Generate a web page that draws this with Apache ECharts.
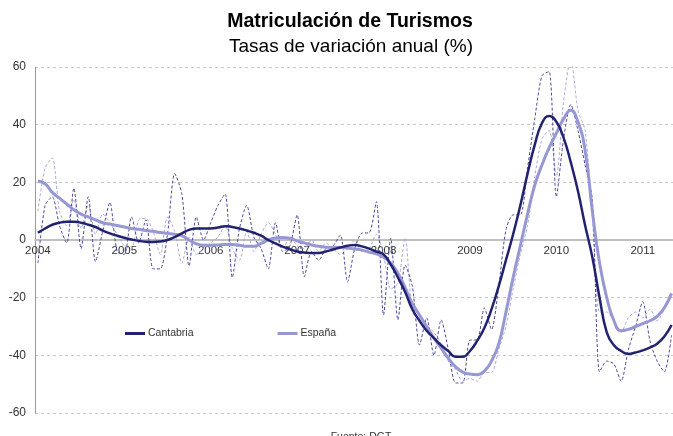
<!DOCTYPE html>
<html>
<head>
<meta charset="utf-8">
<script src="https://cdn.jsdelivr.net/npm/echarts@6/dist/echarts.min.js"></script>
<style>
  html, body { margin: 0; padding: 0; background: #fff; }
  #chart { width: 673px; height: 436px; }
</style>
</head>
<body>
<div id="chart"></div>
<script>
// meses desde ene-2004 hasta may-2011 (indice 0..88)
var years = ['2004', '2005', '2006', '2007', '2008', '2009', '2010', '2011'];
var yTicks = [-60, -40, -20, 0, 20, 40, 60];

// Cantabria - tasa mensual (linea discontinua)
var cantabriaMes = [
  -8, 12, 15, 5, -1, 18, -3, 15, -7.5, 3, 13, -4,
  -5, 8, -1, 7, -10, -10, 2, 23, 16, -9, 8, 0,
  6, 12, 16, -13, 4, 12, 1, -3, -10, 6, -4, -2,
  8.7, -12.7, -4, -7, -3, -2, 1.7, -14.5, -3, 2.4, 2.5, 13.3,
  -26, 0.7, -27.7, -8.7, -16, -36.4, -27, -40, -27.7, -38, -49.6, -49.6,
  -34.7, -34.7, -23.6, -31, -16, 3.5, 8.7, 8.7, 25, 42, 57, 58.4,
  15, 35, 47, 38, 26, 14, -45.7, -42, -43, -49, -38, -30,
  -21.4, -35, -42, -45.7, -33
];
// Cantabria - tendencia
var cantabriaTend = [
  2.5, 4, 5.3, 6, 6.3, 6.3, 6, 5.3, 4.5, 3.3, 2.3, 1.5,
  0.8, 0.2, -0.3, -0.6, -0.7, -0.5, 0, 1, 2.3, 3.5, 4, 4,
  4, 4.3, 4.8, 4.5, 4, 3.3, 2.5, 1.5, 0, -1.2, -2.3, -3.2,
  -4, -4.3, -4.5, -4.5, -4, -3.3, -2.6, -2, -1.7, -2.2, -3, -4,
  -5, -8.5, -13, -18, -24, -28, -31.5, -34, -36.5, -38.5, -40.5, -40.5,
  -38.5, -35, -30.5, -24, -16, -7, 2, 12, 23, 33, 40.5, 43,
  41, 35.5, 27, 17, 5, -6, -20, -32, -36.5, -38.5, -39.5, -39,
  -38.3, -37.3, -36, -33.5, -29.5
];
// España - tasa mensual (linea discontinua)
var espanaMes = [
  10, 25, 28.5, 10, 5, 14, 4, 12, 2, 9, 6, 2,
  -2, -3, 7, 7.5, 3, -5, 8, 3, -8, 1, -5, -3,
  -1, 1, 5, -3, -7, 3, -4, 2, 6, 2, -3, 1,
  -2, -3, 0, -4, -1, -3, -5, -3, 0, -4, -3, 2,
  -5, -17, -15, 0.7, -25, -28, -30, -32, -36, -42, -45, -49,
  -48, -49, -46, -46, -38, -30, -17, -5, 5, 22, 35, 38,
  22, 48, 63, 45, 38, 8, -25, -25, -28, -32, -27, -25,
  -27, -24, -28, -24, -19
];
// España - tendencia
var espanaTend = [
  20.5, 19.5, 16.5, 14.5, 12.5, 10.5, 9, 8, 7, 6, 5.5, 5,
  4.5, 4, 3.7, 3.3, 3, 2.6, 2.3, 2, 1.5, 0, -1.3, -1.8,
  -1.8, -1.7, -1.6, -1.6, -1.8, -2.2, -2.2, -1.2, 0, 0.7, 0.9, 0.6,
  -0.3, -1, -1.7, -2.2, -2.5, -2.6, -2.6, -2.8, -3.1, -3.5, -4.2, -4.8,
  -6, -8, -11.5, -16.5, -22, -26, -30, -34, -37.5, -41, -44, -45.8,
  -46.5, -46.7, -45.5, -42, -36, -25, -13, -2, 9, 19, 26, 32,
  37, 42, 45, 41, 31, 10, -8, -20, -28, -31.5, -31, -30,
  -29, -28, -26.5, -23.5, -18.5
];

function pares(arr) {
  return arr.map(function (v, i) { return [i, v]; });
}

var yearTicks = years.map(function (y, k) { return k * 12; });

var chart = echarts.init(document.getElementById('chart'));
var option = {
  animation: false,
  textStyle: { fontFamily: 'Liberation Sans, Arial, sans-serif' },
  title: [
    {
      text: 'Matriculación de Turismos',
      left: 345, top: 7, textAlign: 'center',
      textStyle: { fontSize: 19.5, fontWeight: 'bold', color: '#000' }
    },
    {
      text: 'Tasas de variación anual (%)',
      left: 346, top: 32, textAlign: 'center',
      textStyle: { fontSize: 19, fontWeight: 'normal', color: '#000' }
    },
    {
      text: 'Fuente: DGT',
      left: 356, top: 427, textAlign: 'center',
      textStyle: { fontSize: 10.5, fontWeight: 'normal', color: '#333' }
    }
  ],
  legend: {
    left: 120, top: 323,
    itemGap: 84,
    itemWidth: 20, itemHeight: 3,
    icon: 'rect',
    data: ['Cantabria', 'España'],
    textStyle: { fontSize: 10.5, color: '#333', padding: [0, 0, 0, -2] }
  },
  grid: { left: 35, right: 0, top: 67, bottom: 23 },
  xAxis: {
    type: 'value',
    min: -0.4, max: 88.2,
    offset: -173,
    axisLine: { onZero: false, lineStyle: { color: '#c0c0c0', width: 2 } },
    axisTick: { show: false },
    splitLine: { show: false },
    axisLabel: {
      customValues: yearTicks,
      margin: 5,
      fontSize: 11.5, color: '#333',
      formatter: function (v) { return years[Math.round(v / 12)]; }
    }
  },
  yAxis: {
    type: 'value',
    min: -60, max: 60, interval: 20,
    axisLine: { show: true, onZero: false, lineStyle: { color: '#999', width: 1 } },
    axisTick: { show: false },
    axisLabel: { fontSize: 12, color: '#333', margin: 9 },
    splitLine: { lineStyle: { color: '#c8c8c8', type: [3, 3], width: 1 } }
  },
  series: [
    {
      name: 'España (mensual)', type: 'line', data: pares(espanaMes),
      symbol: 'none', smooth: 0.25, z: 2,
      lineStyle: { color: '#a9a9dc', width: 1, type: [3, 2] }
    },
    {
      name: 'Cantabria (mensual)', type: 'line', data: pares(cantabriaMes),
      symbol: 'none', smooth: 0.25, z: 2,
      lineStyle: { color: '#4a4a9a', width: 1, type: [3, 2] }
    },
    {
      name: 'España', type: 'line', data: pares(espanaTend),
      symbol: 'none', smooth: true, z: 3,
      itemStyle: { color: '#9797d3' },
      lineStyle: { color: '#9797d3', width: 3 }
    },
    {
      name: 'Cantabria', type: 'line', data: pares(cantabriaTend),
      symbol: 'none', smooth: true, z: 4,
      itemStyle: { color: '#222270' },
      lineStyle: { color: '#222270', width: 2.5 }
    }
  ]
};
chart.setOption(option);
</script>
</body>
</html>
